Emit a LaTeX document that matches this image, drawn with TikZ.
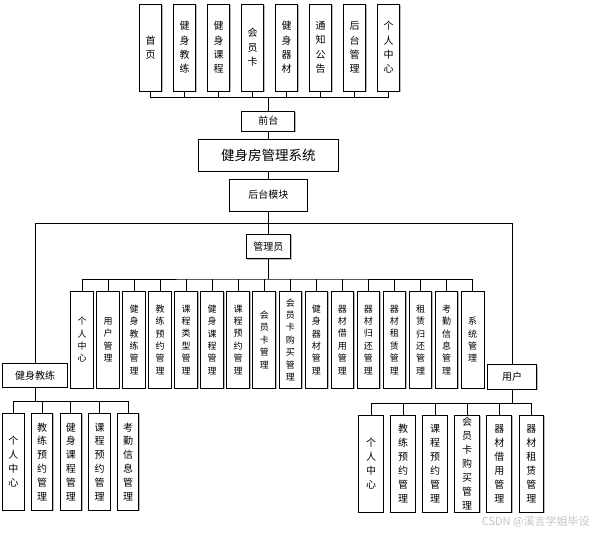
\documentclass[tikz,border=0pt]{standalone}
\usepackage{fontspec}
\setmainfont{Noto Sans CJK SC}
\usetikzlibrary{shadows}
\begin{document}
\begin{tikzpicture}[x=1pt,y=-1pt,line width=0.9pt,
  box/.style={draw=black,fill=white,inner sep=0pt,align=center,
    drop shadow={shadow xshift=1pt,shadow yshift=-1pt,fill=gray!55,opacity=1}},
  hbox/.style={box,font=\fontsize{10}{12}\selectfont},
  topbox/.style={box,minimum width=22.7pt,minimum height=87pt,font=\fontsize{10}{14.3}\selectfont},
  admbox/.style={box,minimum width=22.7pt,minimum height=96.7pt,font=\fontsize{9}{12.4}\selectfont},
  cbox/.style={box,minimum width=21.5pt,minimum height=96.7pt,font=\fontsize{10}{13.8}\selectfont},
  ubox/.style={box,minimum width=24.7pt,minimum height=97.3pt,font=\fontsize{10}{14}\selectfont},
  conn/.style={draw=black,line width=0.9pt}]
\fill[white] (0,0) rectangle (593,532);
\useasboundingbox (0,0) rectangle (593,532);

% top (front-end) boxes
\foreach \txt [count=\i] in {{首\\页},{健\\身\\教\\练},{健\\身\\课\\程},{会\\员\\卡},{健\\身\\器\\材},{通\\知\\公\\告},{后\\台\\管\\理},{个\\人\\中\\心}}
  \node[topbox] (t\i) at ({116.5+34*\i},47.5) {\txt};

\node[hbox,minimum width=53pt,minimum height=20pt] (qt) at (268.3,121) {前台};
\node[box,minimum width=140pt,minimum height=32pt,font=\fontsize{13.5}{16}\selectfont] (sys) at (268.3,155) {健身房管理系统};
\node[hbox,minimum width=78pt,minimum height=32pt] (ht) at (268.3,195) {后台模块};
\node[hbox,minimum width=44.7pt,minimum height=24.7pt] (gly) at (268.3,246.3) {管理员};
\node[hbox,minimum width=64.7pt,minimum height=24pt] (jl) at (35,375.3) {健身教练};
\node[hbox,minimum width=49.3pt,minimum height=24.3pt] (yh) at (512,376.8) {用户};

% admin boxes
\foreach \txt [count=\i] in {{个\\人\\中\\心},{用\\户\\管\\理},{健\\身\\教\\练\\管\\理},{教\\练\\预\\约\\管\\理},{课\\程\\类\\型\\管\\理},{健\\身\\课\\程\\管\\理},{课\\程\\预\\约\\管\\理},{会\\员\\卡\\管\\理},{会\\员\\卡\\购\\买\\管\\理},{健\\身\\器\\材\\管\\理},{器\\材\\借\\用\\管\\理},{器\\材\\归\\还\\管\\理},{器\\材\\租\\赁\\管\\理},{租\\赁\\归\\还\\管\\理},{考\\勤\\信\\息\\管\\理},{系\\统\\管\\理}}
  \node[admbox] (a\i) at ({55.96+26.04*\i},339.7) {\txt};

% coach boxes
\foreach \txt [count=\i] in {{个\\人\\中\\心},{教\\练\\预\\约\\管\\理},{健\\身\\课\\程\\管\\理},{课\\程\\预\\约\\管\\理},{考\\勤\\信\\息\\管\\理}}
  \node[cbox] (c\i) at ({-15.17+28.67*\i},461.7) {\txt};

% user boxes
\foreach \txt [count=\i] in {{个\\人\\中\\心},{教\\练\\预\\约\\管\\理},{课\\程\\预\\约\\管\\理},{会\\员\\卡\\购\\买\\管\\理},{器\\材\\借\\用\\管\\理},{器\\材\\租\\赁\\管\\理}}
  \node[ubox] (u\i) at ({338.93+32.07*\i},463.7) {\txt};

% connectors
\coordinate (tb) at (268.3,97.7);
\draw[conn] (t1.south) |- (tb) -| (t8.south);
\foreach \i in {2,...,7} \draw[conn] (t\i.south) -- (t\i.south |- tb);
\draw[conn] (tb) -- (qt.north);
\draw[conn] (qt.south) -- (sys.north);
\draw[conn] (sys.south) -- (ht.north);

\coordinate (hl) at (268.3,223.3);
\draw[conn] (ht.south) -- (hl);
\draw[conn] (jl.north) |- (hl) -| (yh.north);
\draw[conn] (hl) -- (gly.north);

\coordinate (ab) at (268.3,279);
\draw[conn] (gly.south) -- (ab);
\draw[conn] (a1.north) |- (ab) -| (a16.north);
\foreach \i in {2,...,15} \draw[conn] (a\i.north) -- (a\i.north |- ab);

\coordinate (cb) at (35,401.7);
\draw[conn] (jl.south) -- (cb);
\draw[conn] (c1.north) |- (cb) -| (c5.north);
\foreach \i in {2,3,4} \draw[conn] (c\i.north) -- (c\i.north |- cb);

\coordinate (ub) at (512,403.3);
\draw[conn] (yh.south) -- (ub);
\draw[conn] (u1.north) |- (ub) -| (u6.north);
\foreach \i in {2,...,5} \draw[conn] (u\i.north) -- (u\i.north |- ub);

% watermark
\node[text=gray!45,font=\fontsize{11}{13}\selectfont,anchor=east,inner sep=0pt] (wm) at (590,521.7) {CSDN @溪言学姐毕设};
\end{tikzpicture}
\end{document}
